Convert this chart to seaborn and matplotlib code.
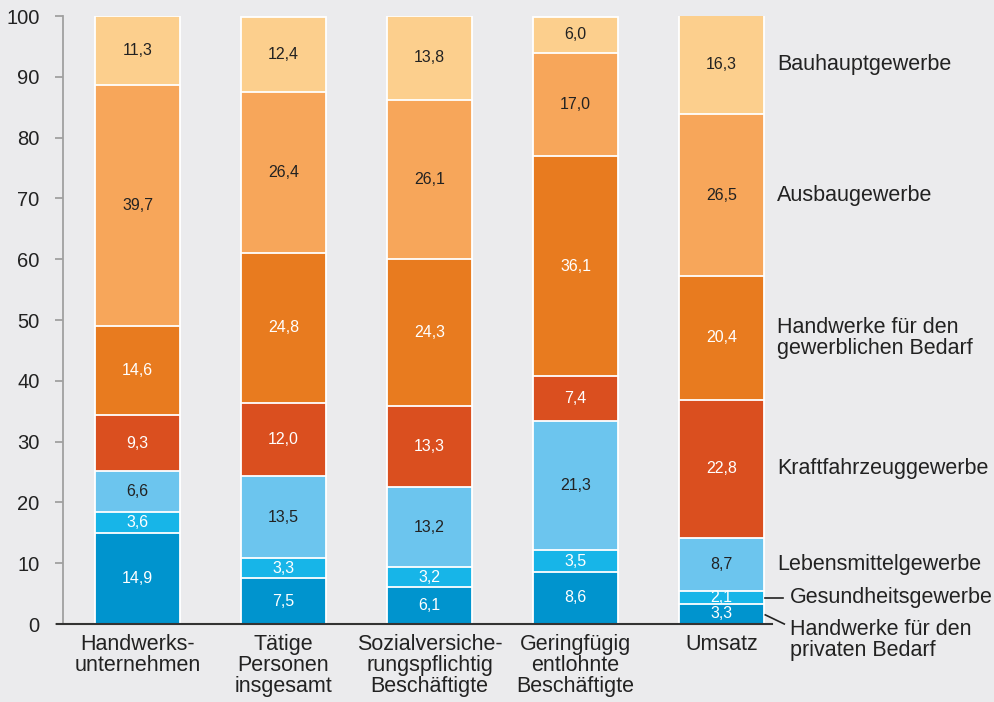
import matplotlib
matplotlib.use("Agg")
import matplotlib.pyplot as plt
import seaborn as sns
import pandas as pd
import numpy as np

# ---- data ----
categories = ["Handwerks-\nunternehmen", "Tätige\nPersonen\ninsgesamt",
              "Sozialversiche-\nrungspflichtig\nBeschäftigte",
              "Geringfügig\nentlohnte\nBeschäftigte", "Umsatz"]
series = ["Handwerke für den privaten Bedarf", "Gesundheitsgewerbe",
          "Lebensmittelgewerbe", "Kraftfahrzeuggewerbe",
          "Handwerke für den gewerblichen Bedarf", "Ausbaugewerbe",
          "Bauhauptgewerbe"]
privat      = [14.9, 7.5, 6.1, 8.6, 3.3]
gesundheit  = [3.6, 3.3, 3.2, 3.5, 2.1]
lebensmittel = [6.6, 13.5, 13.2, 21.3, 8.7]
kfz         = [9.3, 12.0, 13.3, 7.4, 22.8]
gewerblich  = [14.6, 24.8, 24.3, 36.1, 20.4]
ausbau      = [39.7, 26.4, 26.1, 17.0, 26.5]
bauhaupt    = [11.3, 12.4, 13.8, 6.0, 16.3]
values = [privat, gesundheit, lebensmittel, kfz, gewerblich, ausbau, bauhaupt]
right_labels = ["Handwerke für den\nprivaten Bedarf", "Gesundheitsgewerbe",
                "Lebensmittelgewerbe", "Kraftfahrzeuggewerbe",
                "Handwerke für den\ngewerblichen Bedarf", "Ausbaugewerbe",
                "Bauhauptgewerbe"]
yticks = [0, 10, 20, 30, 40, 50, 60, 70, 80, 90, 100]

colors = ["#0094CE", "#17B5E8", "#6CC5EE", "#DA4F1F", "#E87B1F", "#F7A65A", "#FCCF8D"]
text_colors = ["white", "white", "#222222", "white", "white", "#222222", "#222222"]

bg = "#EBEBED"
plt.rcParams['font.family'] = ['Liberation Sans', 'DejaVu Sans']

fig = plt.figure(figsize=(9.95, 7.02), dpi=100, facecolor=bg)
ax = fig.add_axes([63/995, 78/702, (772-63)/995, (624-16)/702])
ax.set_facecolor(bg)

vals = np.array(values)
cum = np.cumsum(vals, axis=0)

# draw from top (full cumulative) down so lower layers overlay
for i in range(len(series) - 1, -1, -1):
    df = pd.DataFrame({"cat": categories, "val": cum[i]})
    sns.barplot(data=df, x="cat", y="val", order=categories, color=colors[i],
                width=0.58, edgecolor="white", linewidth=1.3, saturation=1,
                errorbar=None, ax=ax, zorder=2)

# value labels
for i in range(len(series)):
    for j in range(len(categories)):
        v = vals[i, j]
        mid = cum[i, j] - v / 2
        ax.text(j, mid, f"{v:.1f}".replace(".", ","), ha="center", va="center",
                fontsize=11.5, color=text_colors[i], zorder=5)

ax.set_xlim(-74.5/146, 4 + 50.5/146)
ax.set_ylim(0, 100)
ax.set_yticks(yticks)
ax.set_yticklabels([str(t) for t in yticks])
ax.set_xlabel("")
ax.set_ylabel("")

for s in ["top", "right", "bottom"]:
    ax.spines[s].set_visible(False)
ax.spines["left"].set_color("#A0A0A0")
ax.spines["left"].set_linewidth(1.3)
ax.tick_params(axis="y", length=6, width=1.3, color="#A0A0A0", pad=11,
               labelsize=14.5, labelcolor="#222222")
ax.tick_params(axis="x", length=0, pad=7, labelsize=15.5, labelcolor="#222222")
plt.setp(ax.get_xticklabels(), linespacing=1.0)

# baseline
ax.plot([-6/709, 1], [0, 0], transform=ax.transAxes, color="#333333",
        lw=1.5, clip_on=False, zorder=6)

# right-side labels based on Umsatz column
last = len(categories) - 1
for i, lab in enumerate(right_labels):
    mid = cum[i, last] - vals[i, last] / 2
    if i == 0:
        ax.text(4.47, mid - 4.3, lab, ha="left", va="center", fontsize=15.5,
                color="#222222", linespacing=1.0, clip_on=False)
        ax.plot([4.30, 4.43], [1.5, 0.0], color="#222222", lw=1.2, clip_on=False)
    elif i == 1:
        ax.text(4.47, mid, lab, ha="left", va="center", fontsize=15.5,
                color="#222222", clip_on=False)
        ax.plot([4.30, 4.42], [mid, mid], color="#222222", lw=1.2, clip_on=False)
    else:
        ax.text(4.38, mid, lab, ha="left", va="center", fontsize=15.5,
                color="#222222", linespacing=1.0, clip_on=False)

fig.savefig("out.png", dpi=100, facecolor=bg)
